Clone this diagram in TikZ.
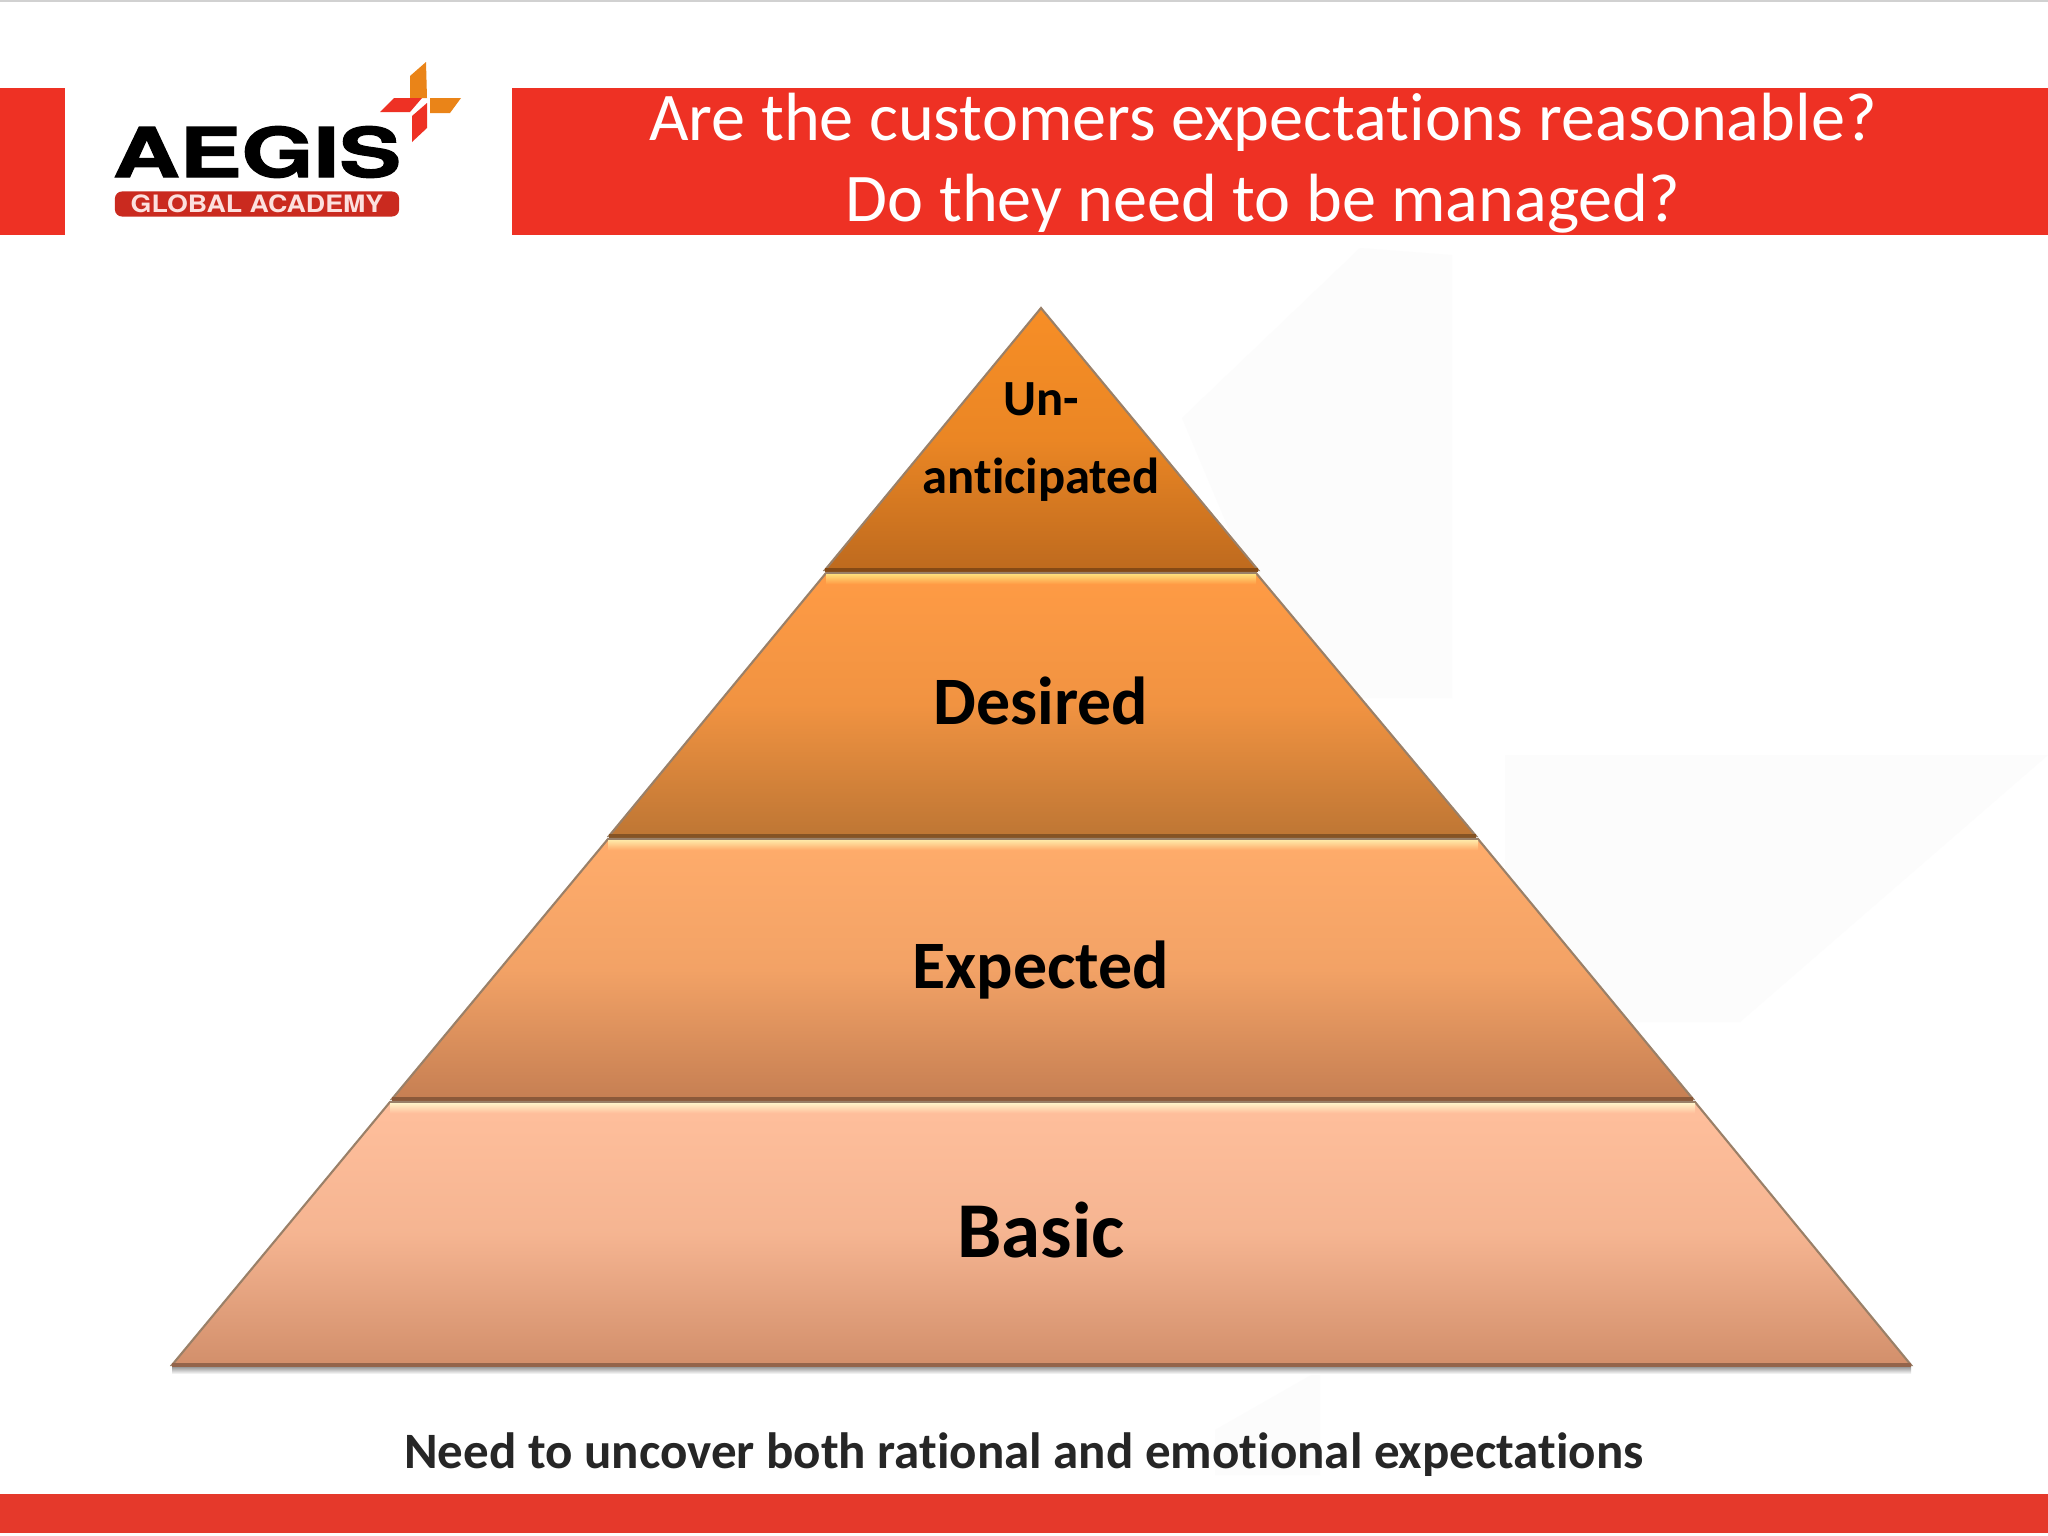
\documentclass[tikz,border=0pt]{standalone}
\usepackage{fontspec}
\usepackage{xcolor}
\setmainfont[Ligatures=NoCommon]{Carlito}
\newfontfamily\logofont[BoldFeatures={FakeBold=1.6}]{TeX Gyre Heros}
\newfontfamily\subfont{TeX Gyre Heros}
\usetikzlibrary{
    calc,
    positioning
}
\definecolor{barred}{HTML}{EE3124}
\definecolor{footred}{HTML}{E5392B}
\definecolor{edgegrey}{HTML}{9A8068}
\definecolor{plusorange}{HTML}{EA8418}
\definecolor{capT}{HTML}{F78E26}
\definecolor{capB}{HTML}{BE6A1E}
\definecolor{desT}{HTML}{FF9B45}
\definecolor{desB}{HTML}{BE7634}
\definecolor{expT}{HTML}{FFAC6B}
\definecolor{expB}{HTML}{C67F53}
\definecolor{basT}{HTML}{FFBF9C}
\definecolor{basB}{HTML}{D28F6B}
\definecolor{glintA}{HTML}{FFDF7A}
\definecolor{glintB}{HTML}{FFE9A8}
\definecolor{glintC}{HTML}{FFF3C8}
\tikzset{
    label/.style={inner sep=0pt, align=center, text=black, font=\bfseries},
    tiershade/.style={draw=edgegrey, line width=0.6pt, line join=miter}
}
\newcommand{\tier}[8]{%
    \shade[tiershade, top color=#7, bottom color=#8, middle color=#7!78!#8] (#1, #2) -- (#3, #2) -- (#5, #4) -- (#6, #4) -- cycle;
    \draw[#8!70!black, line width=0.9pt] (#5, #4) -- (#6, #4);
}
\begin{document}
\begin{tikzpicture}[x=0.01cm, y=-0.01cm]
                        \useasboundingbox (0, 0) rectangle (2048, 1536);
                        \fill[white] (0, 0) rectangle (2048, 1536);
                        % faint marks behind the pyramid
                        \fill[black!1] (1182, 418) -- (1360, 248) -- (1452, 255) -- (1452, 698) -- (1300, 698) -- cycle;
                        \fill[black!1] (1505, 755) -- (2048, 755) -- (1740, 1022) -- (1505, 1022) -- cycle;
                        \fill[black!1] (1215, 1430) -- (1320, 1370) -- (1320, 1475) -- (1215, 1475) -- cycle;
                        \fill[black!18] (0, 0) rectangle (2048, 2);
                        % bars
                        \fill[barred] (0, 88) rectangle (65, 235);
                        \fill[barred] (512, 88) rectangle (2048, 235);
                        \fill[footred] (0, 1494) rectangle (2048, 1533);
                        \node[text=white, align=center, inner sep=0pt, font=\fontsize{19.4}{23.2}\selectfont] (title) at (1263, 163) {Are the customers expectations reasonable?\\Do they need to be managed?};
                        % logo
                        \node[inner sep=0pt, text=black, font=\logofont\bfseries\fontsize{19.5}{20}\selectfont, xscale=1.35] (aegis) at (257, 152) {AEGIS};
                        \node[fill=barred!85!black, rounded corners=2pt, minimum width=2.84cm, minimum height=0.25cm, inner sep=0pt, text=white!85!barred, font=\subfont\bfseries\fontsize{6.8}{7}\selectfont] (academy) at (257, 204) {\scalebox{1.12}[1]{GLOBAL ACADEMY}};
                        \fill[plusorange] (426, 62) -- (427, 98) -- (410, 98) -- (410, 76) -- cycle;
                        \fill[plusorange] (430, 98) -- (461, 98) -- (450, 113) -- (430, 113) -- cycle;
                        \fill[barred] (422, 98) -- (394, 98) -- (380, 112) -- (410, 112) -- cycle;
                        \fill[barred] (427, 103) -- (427, 128) -- (412, 142) -- (412, 116) -- cycle;
                        % pyramid
                        \shade[top color=black!45, bottom color=white, draw=none] (172, 1366) rectangle (1911, 1374);
                        \tier{1041}{308}{1041}{570}{1258}{825}{capT}{capB}
                        \tier{826}{573}{1256}{836}{1476}{609}{desT}{desB}
                        \tier{608}{839}{1478}{1099}{1693}{392}{expT}{expB}
                        \tier{390}{1102}{1695}{1365}{1911}{172}{basT}{basB}
                        \shade[top color=glintA, bottom color=desT, draw=none] (826, 574) rectangle (1256, 584);
                        \shade[top color=glintB, bottom color=expT, draw=none] (608, 840) rectangle (1478, 850);
                        \shade[top color=glintC, bottom color=basT, draw=none] (390, 1103) rectangle (1695, 1113);
                        % labels
                        \node[label, font=\bfseries\fontsize{14.4}{22.4}\selectfont] (unant) at (1041, 442) {Un-\\anticipated};
                        \node[label, font=\bfseries\fontsize{19.3}{22}\selectfont] (desired) at (1041, 701) {Desired};
                        \node[label, font=\bfseries\fontsize{19.3}{22}\selectfont] (expected) at (1041, 970) {Expected};
                        \node[label, font=\bfseries\fontsize{22.5}{25}\selectfont] (basic) at (1041, 1230) {Basic};
                        \node[label, text=black!85, font=\bfseries\fontsize{14.5}{17}\selectfont] (note) at (1024, 1455) {Need to uncover both rational and emotional expectations};
                    \end{tikzpicture}
\end{document}
